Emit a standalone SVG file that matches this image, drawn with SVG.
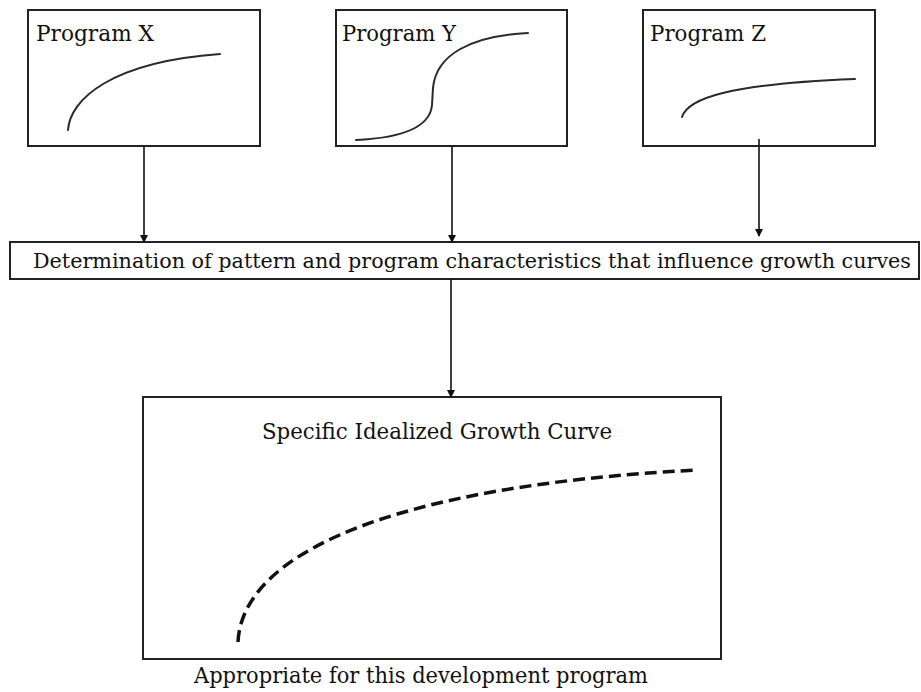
<svg xmlns="http://www.w3.org/2000/svg" width="921" height="692" viewBox="0 0 921 692">
  <defs>
    <marker id="arrowhead" markerWidth="8" markerHeight="8" refX="7" refY="4" orient="auto" markerUnits="userSpaceOnUse">
      <path d="M0,0 L8,4 L0,8 Z" fill="#111"/>
    </marker>
    <style>
      .box { fill: #fff; stroke: #222; stroke-width: 2; }
      .label { font-family: "DejaVu Serif", "Liberation Serif", serif; fill: #111; }
      .curve { fill: none; stroke: #2a2a2a; stroke-width: 2; stroke-linecap: round; }
      .ideal { fill: none; stroke: #111; stroke-width: 3.5; stroke-dasharray: 12 6; }
      .conn { stroke: #111; stroke-width: 1.6; fill: none; marker-end: url(#arrowhead); }
    </style>
  </defs>
  <rect width="921" height="692" fill="#fff"/>

  <!-- Program X -->
  <g id="program-x">
    <rect class="box" x="28" y="10" width="232" height="136"/>
    <text class="label" x="36" y="41" font-size="23" textLength="118" lengthAdjust="spacingAndGlyphs">Program X</text>
    <path class="curve" d="M68,130 C70,100 110,62 220,54"/>
  </g>

  <!-- Program Y -->
  <g id="program-y">
    <rect class="box" x="336" y="10" width="231" height="136"/>
    <text class="label" x="342" y="41" font-size="23" textLength="114" lengthAdjust="spacingAndGlyphs">Program Y</text>
    <path class="curve" d="M356,140 C400,138 430,128 432,105 L433,88 C436,55 470,36 528,33"/>
  </g>

  <!-- Program Z -->
  <g id="program-z">
    <rect class="box" x="643" y="10" width="232" height="136"/>
    <text class="label" x="650" y="41" font-size="23" textLength="116" lengthAdjust="spacingAndGlyphs">Program Z</text>
    <path class="curve" d="M682,117 C688,98 730,84 855,79"/>
  </g>

  <!-- Determination step -->
  <g id="determination">
    <rect class="box" x="10" y="242" width="909" height="37"/>
    <text class="label" x="33" y="268" font-size="20.5" textLength="878" lengthAdjust="spacingAndGlyphs">Determination of pattern and program characteristics that influence growth curves</text>
  </g>

  <!-- Idealized growth curve -->
  <g id="ideal-curve">
    <rect class="box" x="143" y="397" width="578" height="262"/>
    <text class="label" x="262" y="439" font-size="22" textLength="350" lengthAdjust="spacingAndGlyphs">Specific Idealized Growth Curve</text>
    <path class="ideal" d="M238,642 C242,556 385,486 698,470"/>
    <text class="label" x="194" y="683" font-size="22" textLength="454" lengthAdjust="spacingAndGlyphs">Appropriate for this development program</text>
  </g>

  <!-- Connectors -->
  <g id="connectors">
    <line class="conn" x1="144" y1="146" x2="144" y2="242"/>
    <line class="conn" x1="452" y1="146" x2="452" y2="242"/>
    <line class="conn" x1="759" y1="139" x2="759" y2="236"/>
    <line class="conn" x1="451" y1="279" x2="451" y2="397"/>
  </g>
</svg>
